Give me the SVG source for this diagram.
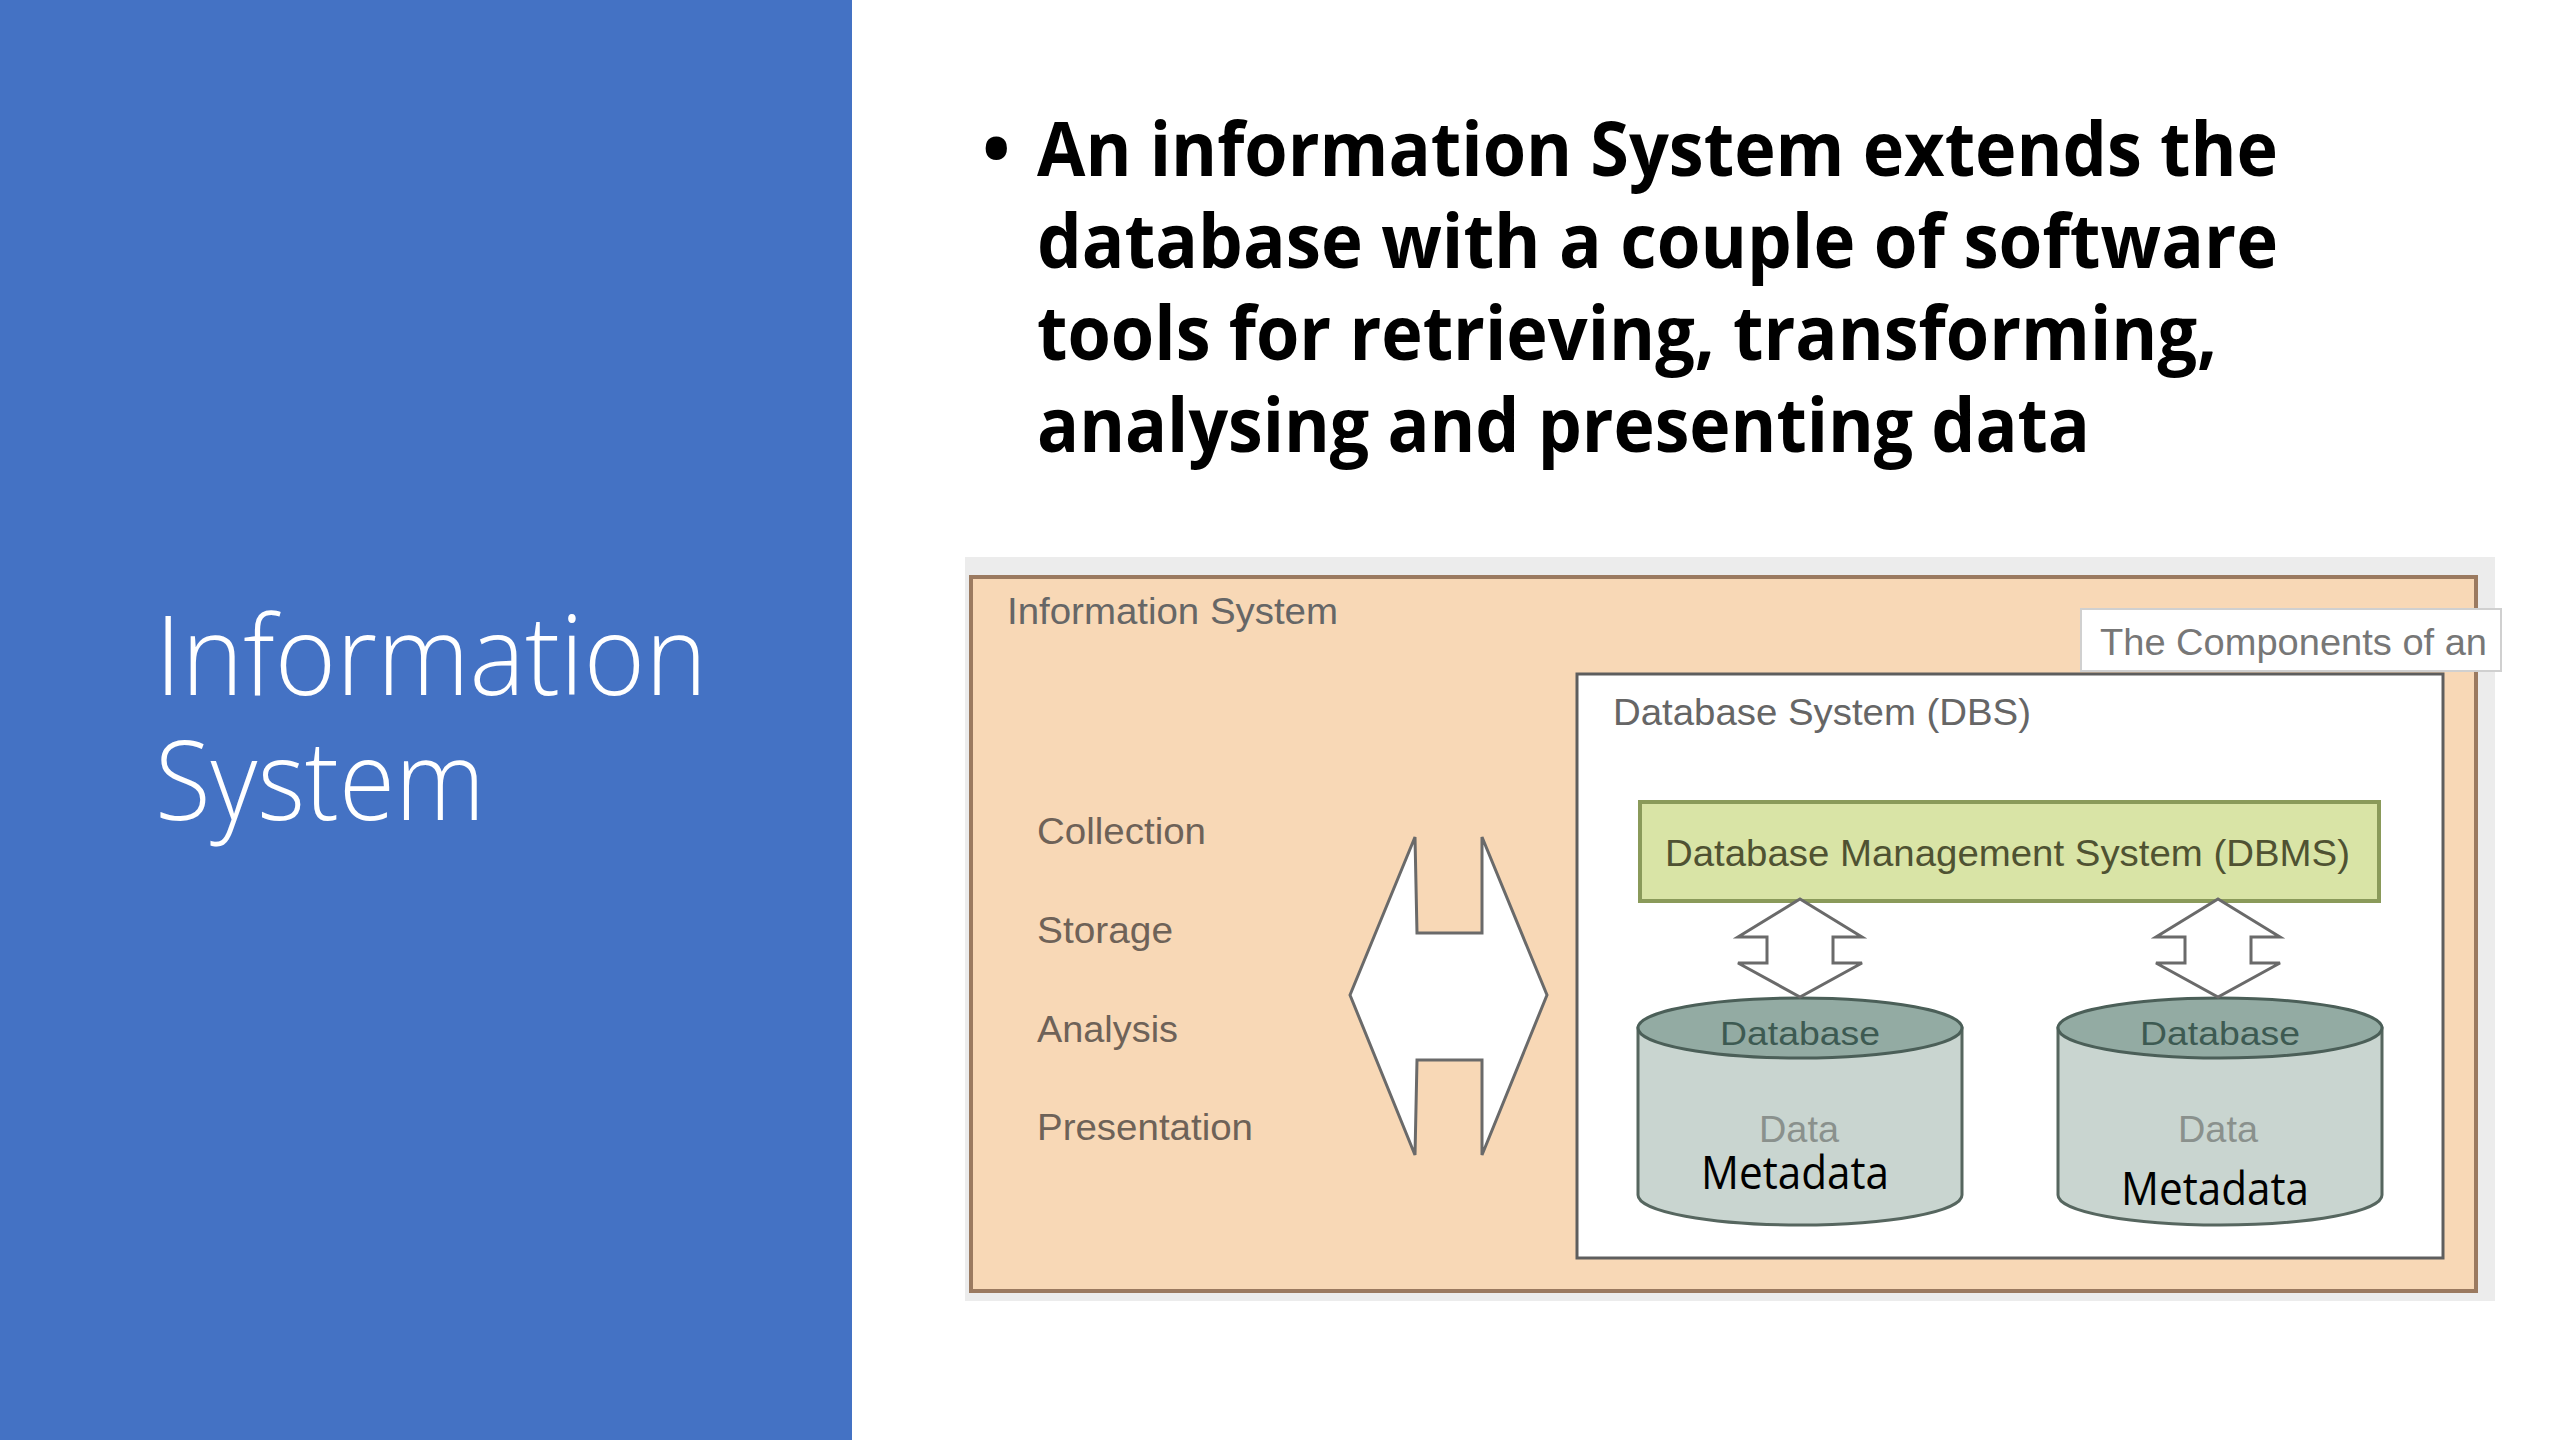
<svg xmlns="http://www.w3.org/2000/svg" width="2560" height="1440" viewBox="0 0 2560 1440">
<style>
.title{font-family:"Open Sans","Noto Sans",sans-serif;font-weight:300;font-size:110px;fill:#ffffff}
.body{font-family:"Open Sans","Noto Sans",sans-serif;font-weight:700;font-size:76px;fill:#000000}
.it{font-family:"Liberation Sans",Arial,sans-serif;font-size:36px}
.lbl{fill:#6e6258}
.gray{fill:#666666}
.dbms{fill:#4f5232}
.dbt{fill:#3d5a52;font-size:34px}
.data{fill:#8a918d}
.meta{font-family:"Open Sans","Noto Sans",sans-serif;font-size:46px;fill:#000000}
.cylbody{fill:#c9d5d0;stroke:#56665f;stroke-width:3}
.cyltop{fill:#93aba3;stroke:#4b5f58;stroke-width:3}
.arr{fill:#ffffff;stroke:#6a6a6a;stroke-width:3;stroke-linejoin:miter}
</style>
<rect x="0" y="0" width="2560" height="1440" fill="#ffffff"/>
<g id="side-panel">
<rect x="0" y="0" width="852" height="1440" fill="#4472c4"/>
<text class="title" x="155" y="695" textLength="552" lengthAdjust="spacingAndGlyphs">Information</text>
<text class="title" x="155" y="820" textLength="330" lengthAdjust="spacingAndGlyphs">System</text>
</g>
<g id="bullet-text">
<text class="body" x="982" y="176">•</text>
<text class="body" x="1037" y="176" textLength="1241" lengthAdjust="spacingAndGlyphs">An information System extends the</text>
<text class="body" x="1037" y="268" textLength="1241" lengthAdjust="spacingAndGlyphs">database with a couple of software</text>
<text class="body" x="1037" y="360" textLength="1180" lengthAdjust="spacingAndGlyphs">tools for retrieving, transforming,</text>
<text class="body" x="1037" y="452" textLength="1053" lengthAdjust="spacingAndGlyphs">analysing and presenting data</text>
</g>
<g id="information-system">
<rect x="965" y="557" width="1530" height="744" fill="#ececec"/>
<rect x="971" y="577" width="1505" height="714" fill="#f8d8b6" stroke="#9b7a60" stroke-width="4"/>
<text class="it gray" x="1007" y="624" textLength="331" lengthAdjust="spacingAndGlyphs">Information System</text>
</g>
<g id="functions">
<text class="it lbl" x="1037" y="844" textLength="169" lengthAdjust="spacingAndGlyphs">Collection</text>
<text class="it lbl" x="1037" y="943" textLength="136" lengthAdjust="spacingAndGlyphs">Storage</text>
<text class="it lbl" x="1037" y="1042" textLength="141" lengthAdjust="spacingAndGlyphs">Analysis</text>
<text class="it lbl" x="1037" y="1140" textLength="216" lengthAdjust="spacingAndGlyphs">Presentation</text>
</g>
<g id="dbs">
<rect x="1577" y="674" width="866" height="584" fill="#ffffff" stroke="#5e5e5e" stroke-width="3"/>
<text class="it gray" x="1613" y="725" textLength="418" lengthAdjust="spacingAndGlyphs">Database System (DBS)</text>
</g>
<g id="tooltip">
<rect x="2081" y="609" width="420" height="62" fill="#ffffff" stroke="#d0d0d0" stroke-width="2"/>
<text class="it" x="2100" y="655" fill="#777777" textLength="387" lengthAdjust="spacingAndGlyphs">The Components of an</text>
</g>
<g id="dbms">
<rect x="1640" y="802" width="739" height="99" fill="#d9e4a6" stroke="#8a9a5a" stroke-width="4"/>
<text class="it dbms" x="1665" y="866" textLength="685" lengthAdjust="spacingAndGlyphs">Database Management System (DBMS)</text>
</g>
<g id="database-1">
<path class="cylbody" d="M1638 1028 L1638 1195 A162 30 0 0 0 1962 1195 L1962 1028 Z"/>
<ellipse class="cyltop" cx="1800" cy="1028" rx="162" ry="30"/>
<text class="it dbt" x="1800" y="1045" text-anchor="middle" textLength="160" lengthAdjust="spacingAndGlyphs">Database</text>
<text class="it data" x="1799" y="1142" text-anchor="middle" textLength="80" lengthAdjust="spacingAndGlyphs">Data</text>
<text class="meta" x="1795" y="1189" text-anchor="middle" textLength="188" lengthAdjust="spacingAndGlyphs">Metadata</text>
</g>
<g id="database-2">
<path class="cylbody" d="M2058 1028 L2058 1195 A162 30 0 0 0 2382 1195 L2382 1028 Z"/>
<ellipse class="cyltop" cx="2220" cy="1028" rx="162" ry="30"/>
<text class="it dbt" x="2220" y="1045" text-anchor="middle" textLength="160" lengthAdjust="spacingAndGlyphs">Database</text>
<text class="it data" x="2218" y="1142" text-anchor="middle" textLength="80" lengthAdjust="spacingAndGlyphs">Data</text>
<text class="meta" x="2215" y="1205" text-anchor="middle" textLength="188" lengthAdjust="spacingAndGlyphs">Metadata</text>
</g>
<g id="connectors">
<polygon class="arr" stroke="#7a6650" points="1350,995 1415,837 1417,933 1482,933 1482,837 1547,995 1482,1155 1482,1060 1417,1060 1415,1155"/>
<polygon class="arr" points="1800,899 1862,937 1833,937 1833,963 1862,963 1800,997 1738,963 1767,963 1767,937 1738,937"/>
<polygon class="arr" points="2218,899 2280,937 2251,937 2251,963 2280,963 2218,997 2156,963 2185,963 2185,937 2156,937"/>
</g>
</svg>
